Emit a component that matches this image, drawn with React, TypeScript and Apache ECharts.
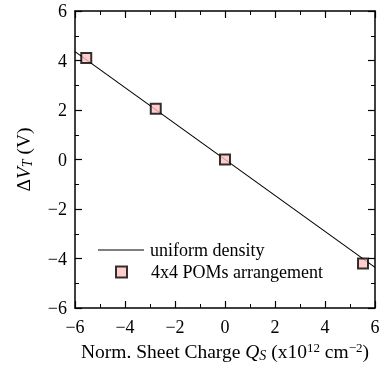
import React, { useEffect, useRef } from "react";
import * as echarts from "echarts";

const lineX = [-6, 6];
const lineY = [4.36, -4.36];
const pomX = [-5.55, -2.77, 0, 5.52];
const pomY = [4.1, 2.05, 0, -4.2];
const xTicks = { min: -6, max: 6, interval: 2 };
const yTicks = { min: -6, max: 6, interval: 2 };
const lineName = "uniform density";
const pomName = "4x4 POMs arrangement";

const FONT = "'Liberation Serif', 'Times New Roman', serif";
const FS = 18;
const TFS = 19.5;

const fmt = (v: number) => (v < 0 ? "\u2212" + Math.abs(v) : String(v));

export default function App() {
  const ref = useRef<HTMLDivElement>(null);
  useEffect(() => {
    if (!ref.current) return;
    const chart = echarts.init(ref.current, undefined, { renderer: "svg" });
    const axisCommon = {
      type: "value" as const,
      splitLine: { show: false },
      axisLine: { show: true, onZero: false, lineStyle: { color: "#000", width: 1.5 } },
      axisTick: { show: true, inside: true, length: 7, lineStyle: { color: "#000", width: 1.2 } },
      minorTick: { show: true, splitNumber: 2, length: 4, lineStyle: { color: "#000", width: 1 } },
    };
    const rich = {
      n: { fontFamily: FONT, fontSize: TFS, color: "#000", lineHeight: 22 },
      i: { fontFamily: FONT, fontSize: TFS, fontStyle: "italic", color: "#000", lineHeight: 22 },
      sub: { fontFamily: FONT, fontSize: 14, fontStyle: "italic", color: "#000", lineHeight: 11, verticalAlign: "bottom" },
      sup: { fontFamily: FONT, fontSize: 13, color: "#000", lineHeight: 11, verticalAlign: "top" },
    };
    chart.setOption({
      animation: false,
      grid: { left: 75, top: 11, width: 300, height: 297, containLabel: false, outerBoundsMode: "none" },
      xAxis: [
        {
          ...axisCommon,
          ...xTicks,
          position: "bottom",
          axisLabel: { formatter: fmt, fontFamily: FONT, fontSize: FS, color: "#000", margin: 10 },
          name: "{n|Norm. Sheet Charge }{i|Q}{sub|S}{n| (x10}{sup|12}{n| cm}{sup|\u22122}{n|)}",
          nameLocation: "middle",
          nameGap: 25,
          nameTextStyle: { rich },
        },
        {
          ...axisCommon,
          ...xTicks,
          position: "top",
          axisLabel: { show: false },
        },
      ],
      yAxis: [
        {
          ...axisCommon,
          ...yTicks,
          position: "left",
          axisLabel: { formatter: fmt, fontFamily: FONT, fontSize: FS, color: "#000", margin: 8 },
          name: "{n|\u0394}{i|V}{sub|T}{n| (V)}",
          nameLocation: "middle",
          nameRotate: 90,
          nameGap: 41,
          nameTextStyle: { rich },
        },
        {
          ...axisCommon,
          ...yTicks,
          position: "right",
          axisLabel: { show: false },
        },
      ],
      legend: [
        {
          data: [{ name: lineName, icon: "rect" }],
          left: 98,
          top: 241,
          itemWidth: 46,
          itemHeight: 1.2,
          itemGap: 0,
          padding: 0,
          itemStyle: { color: "#000", borderWidth: 0 },
          textStyle: { fontFamily: FONT, fontSize: FS, color: "#000", padding: [0, 0, 0, 1] },
        },
        {
          data: [pomName],
          left: 115,
          top: 263,
          itemWidth: 11,
          itemHeight: 11,
          itemGap: 0,
          padding: 0,
          textStyle: { fontFamily: FONT, fontSize: FS, color: "#000", padding: [0, 0, 0, 19] },
        },
      ],
      series: [
        {
          name: lineName,
          type: "line",
          data: lineX.map((x, i) => [x, lineY[i]]),
          showSymbol: false,
          symbol: "none",
          lineStyle: { color: "#000", width: 1.1 },
          itemStyle: { color: "#000" },
          clip: true,
        },
        {
          name: pomName,
          type: "scatter",
          data: pomX.map((x, i) => [x, pomY[i]]),
          symbol: "rect",
          symbolSize: 10,
          itemStyle: { color: "#ffc0c0", borderColor: "#000", borderWidth: 2 },
          z: 3,
        },
      ],
    });
    return () => chart.dispose();
  }, []);
  return <div ref={ref} style={{ position: "fixed", left: 0, top: 0, width: 379, height: 365 }} />;
}
